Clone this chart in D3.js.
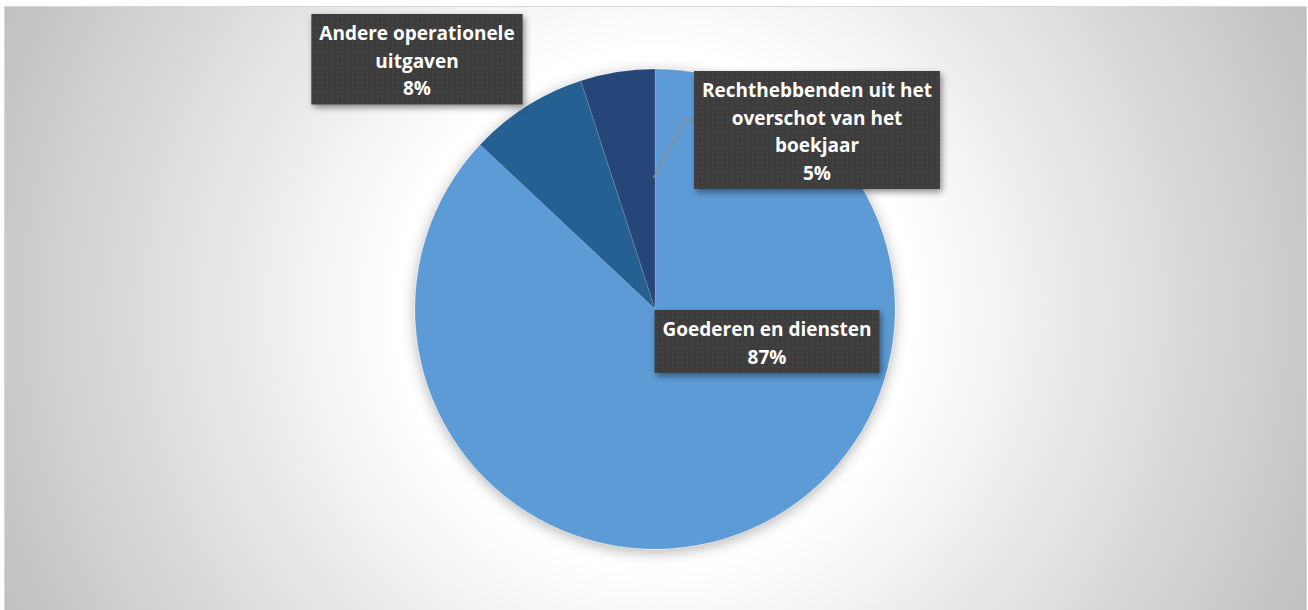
<!DOCTYPE html>
<html>
<head>
<meta charset="utf-8">
<script src="https://cdn.jsdelivr.net/npm/d3@7/dist/d3.min.js"></script>
<style>
  html, body { margin: 0; padding: 0; background: #ffffff; }
  svg { display: block; }
</style>
</head>
<body>
<svg id="chart" width="1308" height="610"></svg>
<script>
// ---- Data ----
const categories = ["Goederen en diensten", "Andere operationele uitgaven", "Rechthebbenden uit het overschot van het boekjaar"];
const values = [87, 8, 5];
const labelLines = [
  ["Goederen en diensten"],
  ["Andere operationele", "uitgaven"],
  ["Rechthebbenden uit het", "overschot van het", "boekjaar"]
];
const colors = ["#5B9BD5", "#255E91", "#264478"];

// ---- Layout ----
const W = 1308, H = 610;
const cx = 655, cy = 309, R = 240;
const labelCenters = [
  { x: 767, top: 310 },
  { x: 417, top: 14 },
  { x: 817, top: 71 }
];
const lineH = 27.5;
const fontSize = 19;

const svg = d3.select("#chart");
const defs = svg.append("defs");

const bg = defs.append("radialGradient")
  .attr("id", "bgGrad").attr("gradientUnits", "userSpaceOnUse")
  .attr("cx", cx).attr("cy", cy).attr("r", 717);
bg.append("stop").attr("offset", "0").attr("stop-color", "#ffffff");
bg.append("stop").attr("offset", "0.36").attr("stop-color", "#ffffff");
bg.append("stop").attr("offset", "1").attr("stop-color", "#c0c0c0");

const pieShadow = defs.append("filter").attr("id", "pieShadow")
  .attr("x", "-20%").attr("y", "-20%").attr("width", "140%").attr("height", "140%");
pieShadow.append("feDropShadow").attr("dx", 0).attr("dy", 3)
  .attr("stdDeviation", 7).attr("flood-color", "#000").attr("flood-opacity", 0.3);

const boxShadow = defs.append("filter").attr("id", "boxShadow")
  .attr("x", "-20%").attr("y", "-20%").attr("width", "140%").attr("height", "140%");
boxShadow.append("feDropShadow").attr("dx", 2).attr("dy", 3)
  .attr("stdDeviation", 3).attr("flood-color", "#000").attr("flood-opacity", 0.45);

const pat = defs.append("pattern").attr("id", "dots")
  .attr("patternUnits", "userSpaceOnUse").attr("width", 5).attr("height", 5);
pat.append("rect").attr("width", 5).attr("height", 5).attr("fill", "#3c3c3c");
pat.append("circle").attr("cx", 2.5).attr("cy", 2.5).attr("r", 0.9).attr("fill", "#4a4a4a");

// background
svg.append("rect").attr("x", 4.5).attr("y", 6.5).attr("width", 1302).attr("height", 604)
  .attr("fill", "url(#bgGrad)").attr("stroke", "#d9d9d9").attr("stroke-width", 1);

// pie
const pie = d3.pie().sort(null).value(d => d);
const arcs = pie(values);
const arc = d3.arc().innerRadius(0).outerRadius(R);

const g = svg.append("g").attr("transform", `translate(${cx},${cy})`);
g.append("g").attr("filter", "url(#pieShadow)")
  .selectAll("path").data(arcs).join("path")
  .attr("d", arc)
  .attr("fill", (d, i) => colors[i])
  .attr("stroke", "rgba(255,255,255,0.2)")
  .attr("stroke-width", 0.7);

const total = d3.sum(values);
const pct = v => Math.round(v / total * 100) + "%";

// leader line for the small slice
{
  const a = arcs[2];
  const p = d3.pointRadial(a.endAngle - 0.012, 131);
  svg.append("polyline").attr("id", "leader")
    .attr("fill", "none").attr("stroke", "#8c8c8c").attr("stroke-width", 1.5)
    .datum([cx + p[0], cy + p[1]]);
}

// labels
const labelsG = svg.append("g");
arcs.forEach((a, i) => {
  const lines = labelLines[i].concat([pct(values[i])]);
  const c = labelCenters[i];
  const lg = labelsG.append("g");
  const rect = lg.append("rect").attr("fill", "url(#dots)").attr("filter", "url(#boxShadow)");
  const txt = lg.append("text")
    .attr("text-anchor", "middle")
    .attr("font-family", "'Open Sans', sans-serif")
    .attr("font-weight", "bold")
    .attr("font-size", fontSize)
    .attr("fill", "#ffffff");
  lines.forEach((l, k) => {
    txt.append("tspan").attr("x", c.x).attr("y", c.top + 26 + k * lineH).text(l);
  });
  const bb = txt.node().getBBox();
  const w = bb.width + 16;
  const h = lines.length * lineH + 8;
  rect.attr("x", c.x - w / 2).attr("y", c.top).attr("width", w).attr("height", h);
  if (i === 2) {
    const leader = svg.select("#leader");
    const end = leader.datum();
    const lx = c.x - w / 2, ly = 120;
    leader.attr("points", `${lx},${ly} ${lx - 9},${ly} ${end[0]},${end[1]}`);
  }
});
</script>
</body>
</html>
